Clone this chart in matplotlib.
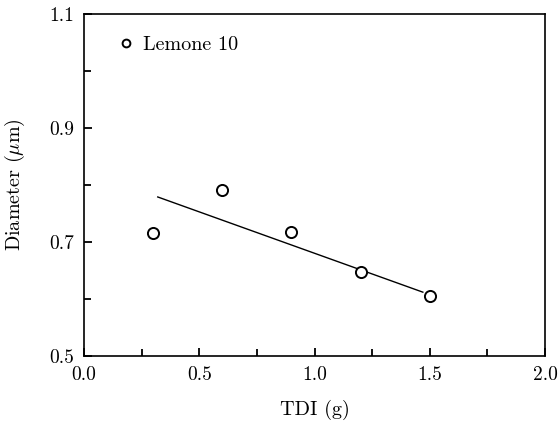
import matplotlib
matplotlib.use("Agg")
import matplotlib.pyplot as plt
from matplotlib.ticker import MultipleLocator, FormatStrFormatter

tdi = [0.3, 0.6, 0.9, 1.2, 1.5]
diameter = [0.715, 0.792, 0.718, 0.647, 0.605]
fit_x = [0.32, 1.47]
fit_y = [0.779, 0.612]
series_label = "Lemone 10"

plt.rcParams['mathtext.fontset'] = 'cm'
plt.rcParams['font.family'] = ['cmr10', 'DejaVu Serif']
plt.rcParams['axes.formatter.use_mathtext'] = True

fig = plt.figure(figsize=(5.58, 4.21), dpi=100)
ax = fig.add_axes([84/558, 65/421, 461/558, 342/421])

ax.plot(tdi, diameter, linestyle='none', marker='o', markersize=8,
        markerfacecolor='white', markeredgecolor='black', markeredgewidth=1.4,
        label=series_label, zorder=3)
ax.plot(fit_x, fit_y, color='black', linewidth=1.0, zorder=2)

ax.set_xlim(0, 2.0)
ax.set_ylim(0.5, 1.1)
ax.xaxis.set_major_locator(MultipleLocator(0.5))
ax.xaxis.set_minor_locator(MultipleLocator(0.25))
ax.yaxis.set_major_locator(MultipleLocator(0.2, offset=0.1))
ax.yaxis.set_minor_locator(MultipleLocator(0.1))
ax.xaxis.set_major_formatter(FormatStrFormatter('%.1f'))
ax.yaxis.set_major_formatter(FormatStrFormatter('%.1f'))

ax.tick_params(which='both', direction='in', top=False, right=False,
               labelsize=14, width=1.3)
ax.tick_params(which='major', length=6, pad=7)
ax.tick_params(which='minor', length=5)
for s in ax.spines.values():
    s.set_linewidth(1.2)

ax.set_xlabel('TDI (g)', fontsize=14.5, labelpad=12)
ax.set_ylabel(r'Diameter ($\mu$m)', fontsize=14.5, labelpad=16)

leg = ax.legend(loc='upper left', frameon=False, fontsize=14.5,
                handletextpad=0.25, handlelength=1.2, markerscale=0.7,
                bbox_to_anchor=(0.025, 0.99))

fig.savefig('out.png', dpi=100)
